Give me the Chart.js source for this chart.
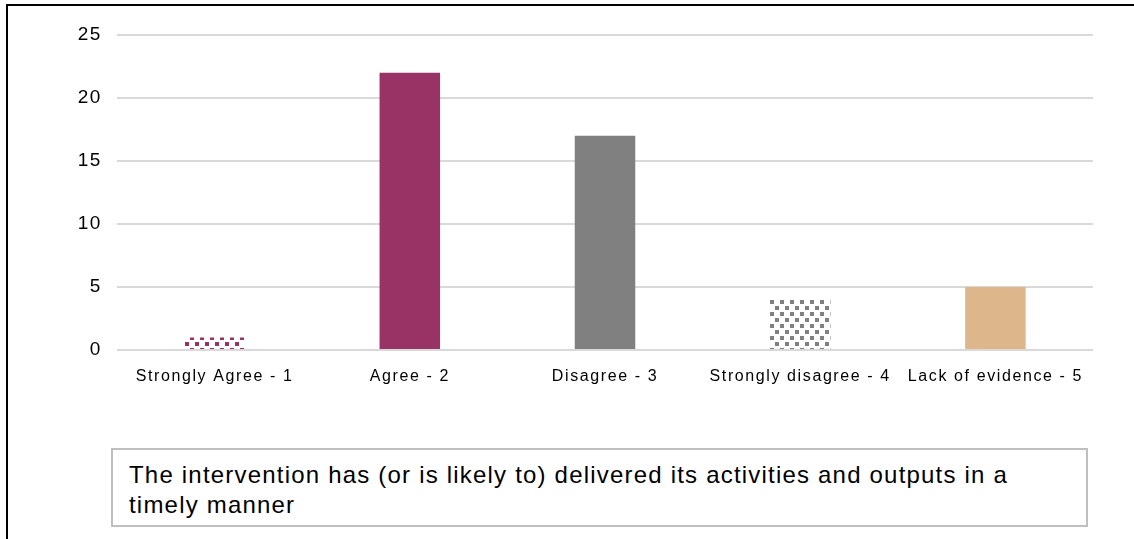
<!DOCTYPE html>
<html lang="en">
<head>
  <meta charset="UTF-8" />
  <title>Timeliness of delivery</title>
  <script src="https://cdn.jsdelivr.net/npm/chart.js"></script>
  <style>
    html, body { margin: 0; padding: 0; background: #fff; overflow: hidden; }
    #frame {
      position: absolute; left: 6px; top: 4px; width: 1140px; height: 540px;
      border-top: 2px solid #000; border-left: 2px solid #000;
    }
    #chartBox { position: absolute; left: 0; top: 0; width: 1134px; height: 400px; }
    #caption {
      position: absolute; left: 111px; top: 448px; width: 947px; height: 63px;
      border: 2px solid #bfbfbf; padding: 10px 10px 2px 16px;
      font-family: "Liberation Sans", Arial, sans-serif; font-size: 24px; line-height: 30px;
      color: #000; letter-spacing: 1.2px;
    }
  </style>
</head>
<body>
  <div id="frame"></div>
  <div id="chartBox"><canvas id="ratingChart"></canvas></div>
  <div id="caption">The intervention has (or is likely to) delivered its activities and outputs in a<br>timely manner</div>

  <script>
    const categories = ['Strongly Agree - 1', 'Agree - 2', 'Disagree - 3', 'Strongly disagree - 4', 'Lack of evidence - 5'];
    const counts = [1, 22, 17, 4, 5];
    const yTicks = [0, 5, 10, 15, 20, 25];

    // small-square dotted fill used for the "strongly" bars
    function dotPattern(color) {
      const tile = document.createElement('canvas');
      tile.width = 10;
      tile.height = 12;
      const c = tile.getContext('2d');
      c.fillStyle = '#fff';
      c.fillRect(0, 0, 10, 12);
      c.fillStyle = color;
      c.fillRect(0, 0, 4, 4);
      c.fillRect(5, 6, 4, 4);
      return c.createPattern(tile, 'repeat');
    }

    const barColors = [dotPattern('#993366'), '#993366', '#808080', dotPattern('#808080'), '#deb68b'];

    // wider tracking on the axis labels (canvas resets it on resize, so set it each pass)
    const spacedText = {
      id: 'spacedText',
      beforeUpdate: chart => { chart.ctx.letterSpacing = '1.6px'; },
      beforeDraw: chart => { chart.ctx.letterSpacing = '1.6px'; }
    };

    const ctx = document.getElementById('ratingChart').getContext('2d');
    new Chart(ctx, {
      type: 'bar',
      data: {
        labels: categories,
        datasets: [{ data: counts, backgroundColor: barColors, barPercentage: 0.31, categoryPercentage: 1 }]
      },
      options: {
        responsive: true,
        maintainAspectRatio: false,
        animation: false,
        layout: { padding: { top: 35, left: 0, right: 41, bottom: 0 } },
        plugins: { legend: { display: false }, tooltip: { enabled: false } },
        scales: {
          x: {
            grid: { display: false, drawTicks: false },
            border: { display: false },
            ticks: { color: '#000', padding: 17, font: { family: 'Liberation Sans', size: 16 }, maxRotation: 0, autoSkip: false },
            afterFit: s => { s.height = 50; }
          },
          y: {
            min: 0,
            max: 25,
            afterBuildTicks: s => { s.ticks = yTicks.map(v => ({ value: v })); },
            grid: { color: '#d9d9d9', lineWidth: 2, drawTicks: false },
            border: { display: false },
            ticks: { color: '#000', padding: 15, font: { family: 'Liberation Sans', size: 19 } },
            afterFit: s => { s.width = 117; }
          }
        }
      },
      plugins: [spacedText]
    });
  </script>
</body>
</html>
